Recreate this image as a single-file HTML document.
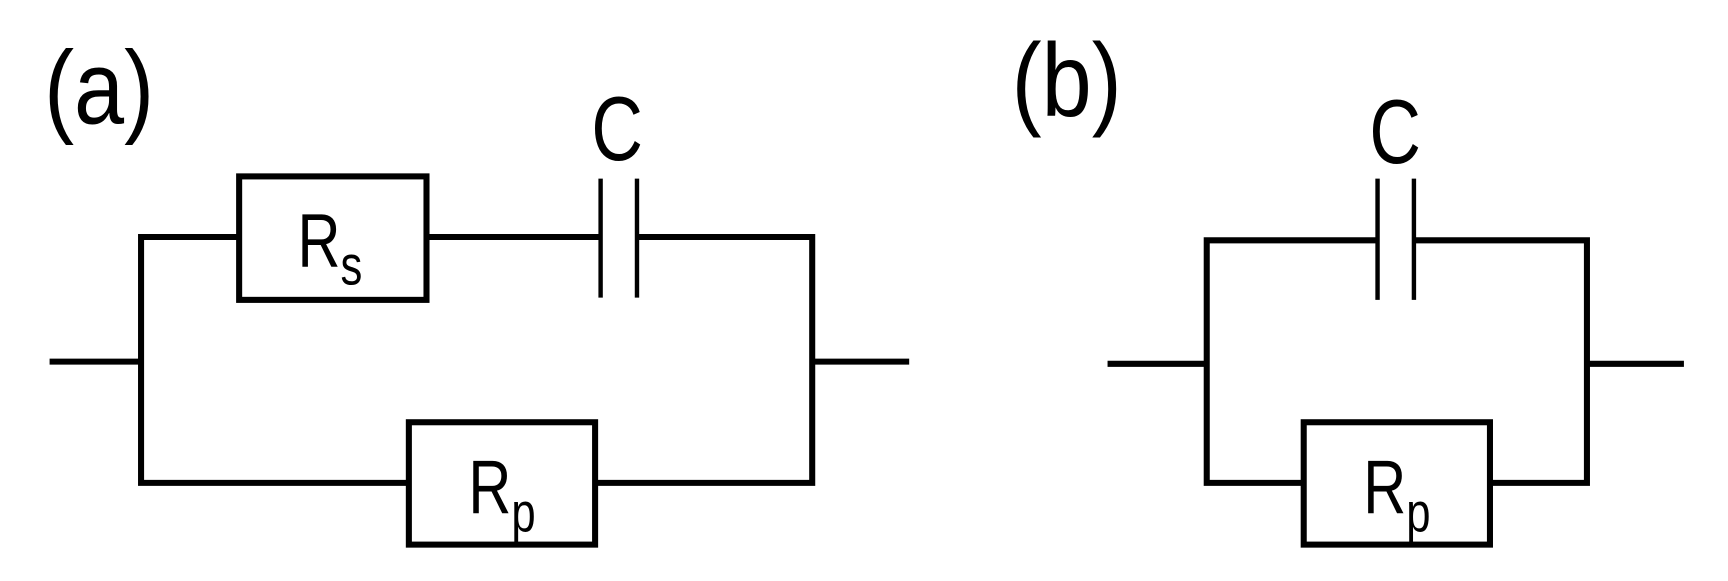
<!DOCTYPE html>
<html><head><meta charset="utf-8"><style>html,body{margin:0;padding:0;background:#fff;}svg{display:block}</style></head>
<body>
<svg width="1728" height="581" viewBox="0 0 1568 527" preserveAspectRatio="none" xmlns="http://www.w3.org/2000/svg">
<g fill="none" stroke="#000" stroke-width="5.5">
<polyline points="217,215 128,215 128,438 371,438"/>
<polyline points="540,438 737,438 737,215 578,215"/>
<line x1="387" y1="215" x2="545" y2="215"/>
<line x1="45" y1="328" x2="128" y2="328"/>
<line x1="737" y1="328" x2="825" y2="328"/>
<rect x="217" y="160" width="170" height="112"/>
<rect x="371" y="383" width="169" height="111"/>
<line x1="545" y1="162" x2="545" y2="270" stroke-width="4"/>
<line x1="578" y1="162" x2="578" y2="270" stroke-width="4"/>
<polyline points="1250,218 1095,218 1095,438 1183,438"/>
<polyline points="1283,218 1440,218 1440,438 1352,438"/>
<line x1="1005" y1="330" x2="1095" y2="330"/>
<line x1="1440" y1="330" x2="1528" y2="330"/>
<rect x="1183" y="383" width="169" height="111"/>
<line x1="1250" y1="162" x2="1250" y2="272" stroke-width="4"/>
<line x1="1283" y1="162" x2="1283" y2="272" stroke-width="4"/>
</g>
<g font-family="Liberation Sans, sans-serif" fill="#000">
<text transform="translate(40,112) scale(0.95,1.1)" font-size="86">(a)</text>
<text transform="translate(918,105) scale(0.95,1.1)" font-size="86">(b)</text>
<text transform="translate(560,145) scale(0.9,1.15)" font-size="72" text-anchor="middle">C</text>
<text transform="translate(1266,148) scale(0.9,1.15)" font-size="72" text-anchor="middle">C</text>
<text transform="translate(270,242) scale(0.9,1.15)" font-size="60">R<tspan font-size="44" dy="14">s</tspan></text>
<text transform="translate(425,466) scale(0.9,1.15)" font-size="60">R<tspan font-size="44" dy="14">p</tspan></text>
<text transform="translate(1237,466) scale(0.9,1.15)" font-size="60">R<tspan font-size="44" dy="14">p</tspan></text>
</g>
</svg>
</body></html>
